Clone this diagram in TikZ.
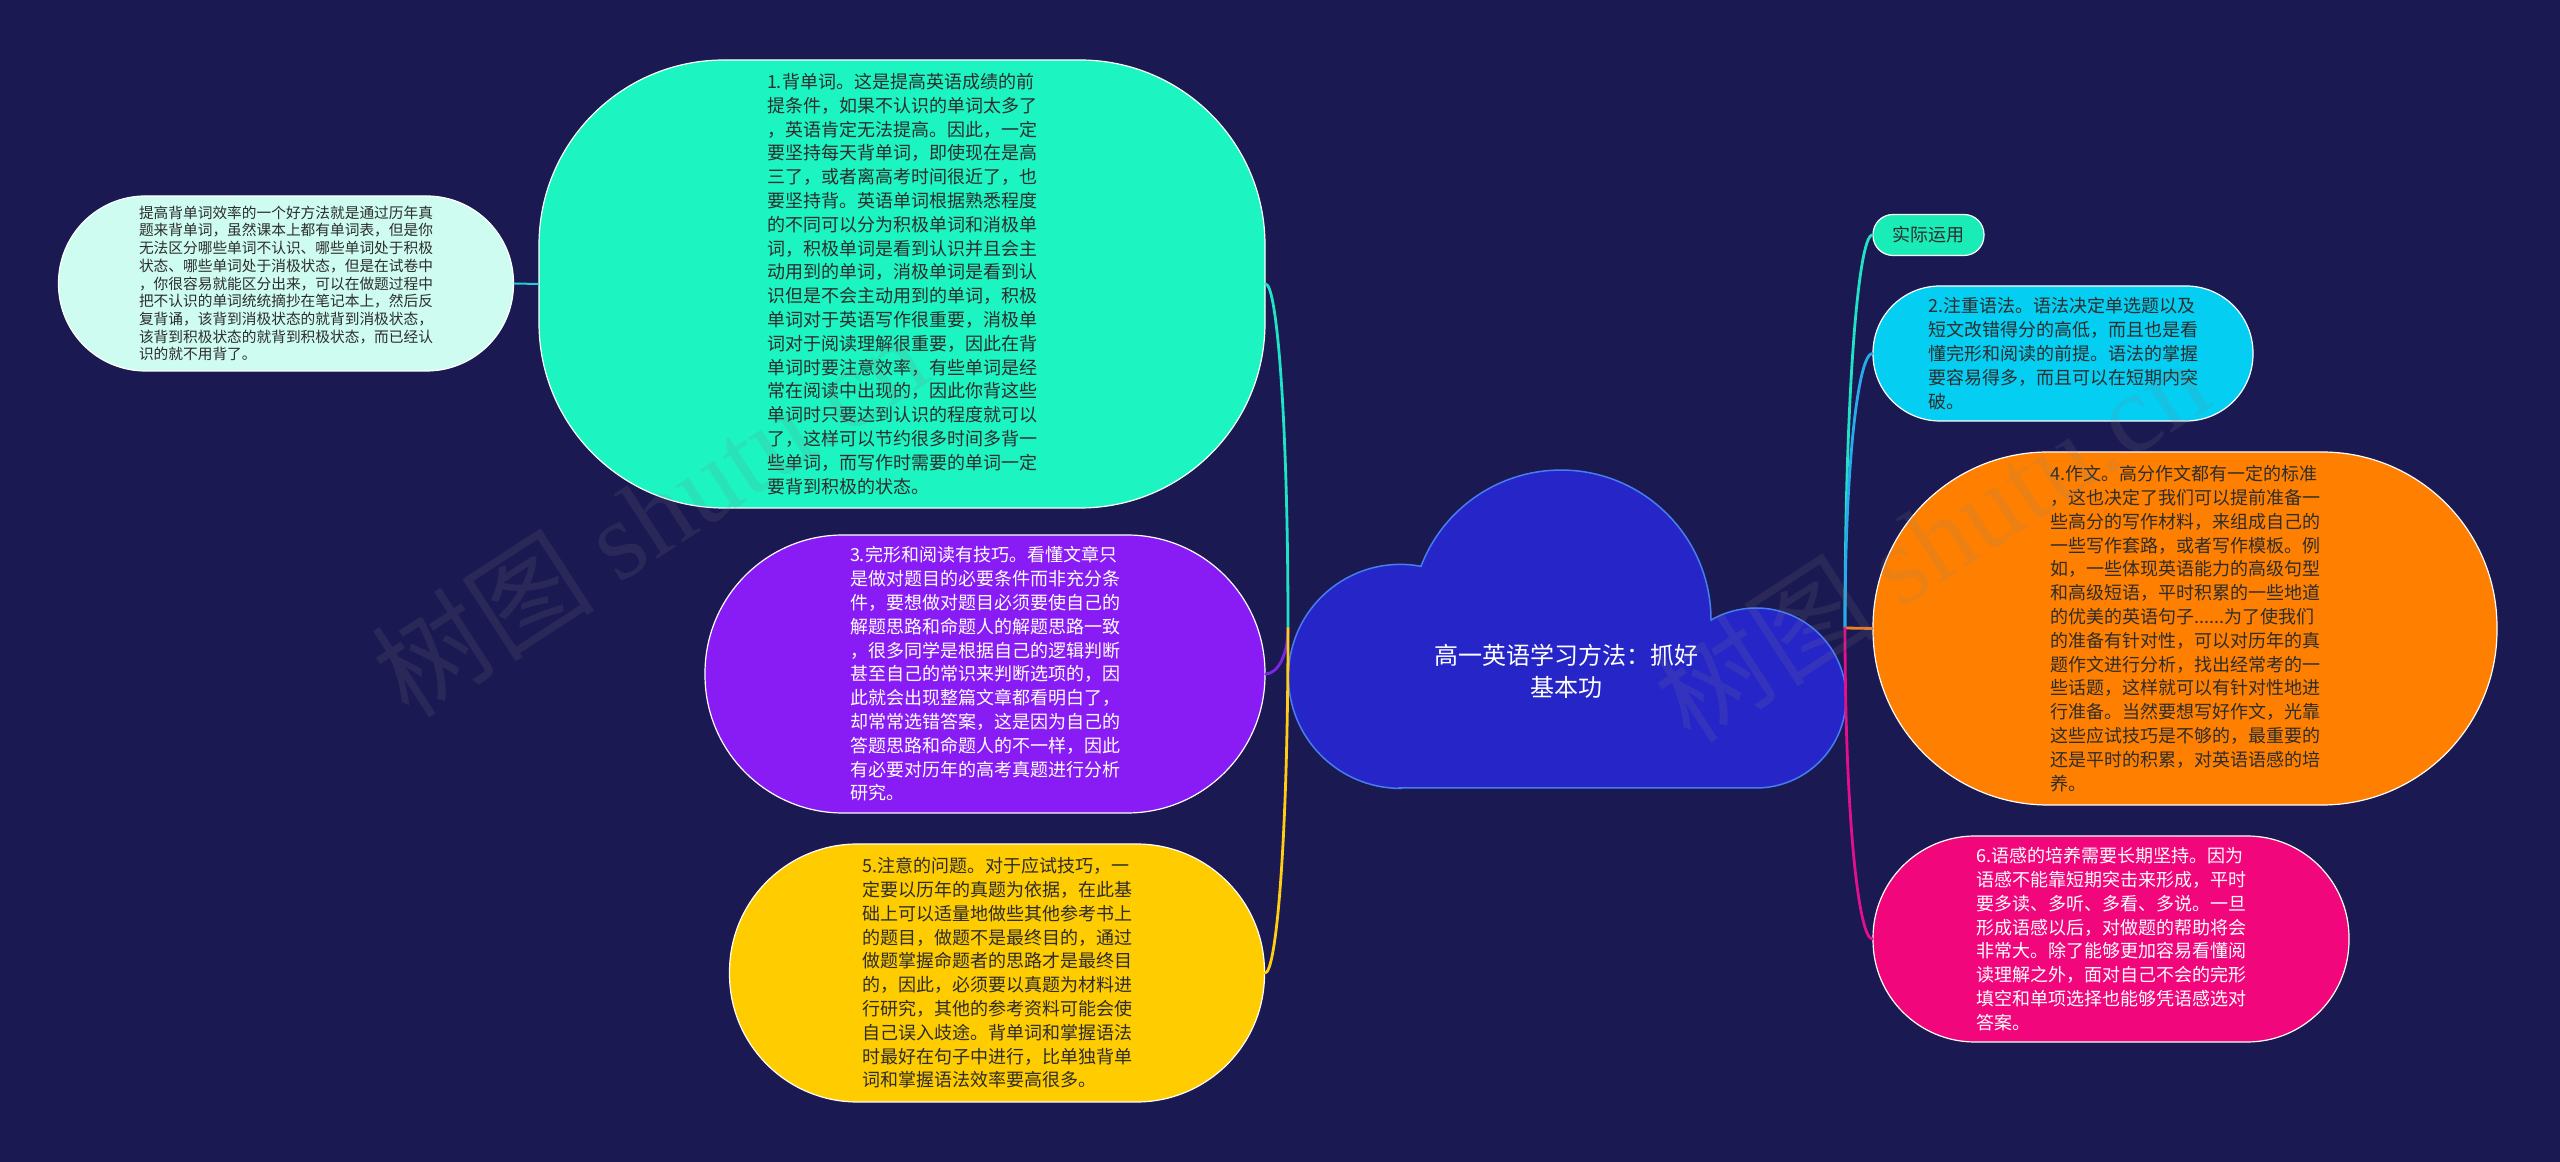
\documentclass[tikz,border=0pt]{standalone}
\usepackage{fontspec}
\setmainfont{Noto Sans CJK SC}
\newfontfamily\wmserif{Liberation Serif}
\definecolor{bg}{RGB}{27,25,82}
\definecolor{cgreen}{RGB}{28,244,194}
\definecolor{cmint}{RGB}{206,252,240}
\definecolor{cpurple}{RGB}{137,28,244}
\definecolor{cyellow}{RGB}{255,204,0}
\definecolor{cagreen}{RGB}{26,236,184}
\definecolor{ccyan}{RGB}{4,206,242}
\definecolor{corange}{RGB}{255,128,0}
\definecolor{cpink}{RGB}{242,6,123}
\definecolor{ccloud}{RGB}{38,38,200}
\definecolor{ccloudline}{RGB}{70,125,240}
\definecolor{txtdark}{RGB}{45,45,45}
\definecolor{lgreen}{RGB}{32,226,196}
\definecolor{lpurple}{RGB}{122,40,226}
\definecolor{lyellow}{RGB}{255,206,20}
\definecolor{lcyan}{RGB}{40,170,236}
\definecolor{lorange}{RGB}{238,128,40}
\definecolor{lpink}{RGB}{226,16,138}
\definecolor{lmint}{RGB}{34,204,216}
\begin{document}
\begin{tikzpicture}[x=1pt,y=1pt,
  box/.style={draw=white, line width=1.2pt, inner sep=0pt, align=left,
    font=\fontsize{18pt}{23.8pt}\selectfont, text=txtdark},
  conn/.style={line width=2.8pt, line cap=round},
  wm/.style={text=gray, opacity=0.15, font=\fontsize{112pt}{112pt}\selectfont}]
\useasboundingbox[fill=bg] (0,0) rectangle (2560,1162);

% cloud
\draw[fill=ccloud, draw=ccloudline, line width=1.5pt]
  (1400,374) -- (1756,374)
  arc[start angle=-90, end angle=120, radius=90]
  arc[start angle=0, end angle=159, radius=150]
  arc[start angle=79.4, end angle=270, radius=112] -- cycle;
\node[text=white, align=center, inner sep=0pt, font=\fontsize{24pt}{32pt}\selectfont] (root) at (1566,491) {高一英语学习方法：抓好\\基本功};
\coordinate (rootL) at (1288,534);
\coordinate (rootR) at (1845,534);

% left nodes
\node[box, fill=cgreen, minimum width=726pt, minimum height=448pt, rounded corners=185pt] (n1) at (902,878) {1.背单词。这是提高英语成绩的前\\提条件，如果不认识的单词太多了\\，英语肯定无法提高。因此，一定\\要坚持每天背单词，即使现在是高\\三了，或者离高考时间很近了，也\\要坚持背。英语单词根据熟悉程度\\的不同可以分为积极单词和消极单\\词，积极单词是看到认识并且会主\\动用到的单词，消极单词是看到认\\识但是不会主动用到的单词，积极\\单词对于英语写作很重要，消极单\\词对于阅读理解很重要，因此在背\\单词时要注意效率，有些单词是经\\常在阅读中出现的，因此你背这些\\单词时只要达到认识的程度就可以\\了，这样可以节约很多时间多背一\\些单词，而写作时需要的单词一定\\要背到积极的状态。};

\node[box, fill=cmint, minimum width=455pt, minimum height=175pt, rounded corners=87pt, font=\fontsize{14.7pt}{17.7pt}\selectfont] (nL) at (286,878.5) {提高背单词效率的一个好方法就是通过历年真\\题来背单词，虽然课本上都有单词表，但是你\\无法区分哪些单词不认识、哪些单词处于积极\\状态、哪些单词处于消极状态，但是在试卷中\\，你很容易就能区分出来，可以在做题过程中\\把不认识的单词统统摘抄在笔记本上，然后反\\复背诵，该背到消极状态的就背到消极状态，\\该背到积极状态的就背到积极状态，而已经认\\识的就不用背了。};

\node[box, fill=cpurple, text=white, minimum width=560pt, minimum height=278pt, rounded corners=138pt] (n3) at (985,488) {3.完形和阅读有技巧。看懂文章只\\是做对题目的必要条件而非充分条\\件，要想做对题目必须要使自己的\\解题思路和命题人的解题思路一致\\，很多同学是根据自己的逻辑判断\\甚至自己的常识来判断选项的，因\\此就会出现整篇文章都看明白了，\\却常常选错答案，这是因为自己的\\答题思路和命题人的不一样，因此\\有必要对历年的高考真题进行分析\\研究。};

\node[box, fill=cyellow, minimum width=535pt, minimum height=258pt, rounded corners=128pt] (n5) at (997,189) {5.注意的问题。对于应试技巧，一\\定要以历年的真题为依据，在此基\\础上可以适量地做些其他参考书上\\的题目，做题不是最终目的，通过\\做题掌握命题者的思路才是最终目\\的，因此，必须要以真题为材料进\\行研究，其他的参考资料可能会使\\自己误入歧途。背单词和掌握语法\\时最好在句子中进行，比单独背单\\词和掌握语法效率要高很多。};

% right nodes
\node[box, fill=cagreen, minimum width=111pt, minimum height=41pt, rounded corners=20pt, align=center] (nA) at (1928.5,927) {实际运用};

\node[box, fill=ccyan, minimum width=380pt, minimum height=135pt, rounded corners=67pt] (n2) at (2063,808.5) {2.注重语法。语法决定单选题以及\\短文改错得分的高低，而且也是看\\懂完形和阅读的前提。语法的掌握\\要容易得多，而且可以在短期内突\\破。};

\node[box, fill=corange, minimum width=624pt, minimum height=353pt, rounded corners=175pt] (n4) at (2185,533.5) {4.作文。高分作文都有一定的标准\\，这也决定了我们可以提前准备一\\些高分的写作材料，来组成自己的\\一些写作套路，或者写作模板。例\\如，一些体现英语能力的高级句型\\和高级短语，平时积累的一些地道\\的优美的英语句子......为了使我们\\的准备有针对性，可以对历年的真\\题作文进行分析，找出经常考的一\\些话题，这样就可以有针对性地进\\行准备。当然要想写好作文，光靠\\这些应试技巧是不够的，最重要的\\还是平时的积累，对英语语感的培\\养。};

\node[box, fill=cpink, text=white, minimum width=476pt, minimum height=206pt, rounded corners=102pt] (n6) at (2111,223) {6.语感的培养需要长期坚持。因为\\语感不能靠短期突击来形成，平时\\要多读、多听、多看、多说。一旦\\形成语感以后，对做题的帮助将会\\非常大。除了能够更加容易看懂阅\\读理解之外，面对自己不会的完形\\填空和单项选择也能够凭语感选对\\答案。};

% connectors
\draw[conn, lgreen] (rootL) .. controls +(0,206) and +(11.5,0) .. (n1.east);
\draw[conn, lpurple] (rootL) .. controls +(0,-28) and +(11.5,0) .. (n3.east);
\draw[conn, lyellow] (rootL) .. controls +(0,-207) and +(11.5,0) .. (n5.east);
\draw[line width=2pt, lmint] (nL.east) -- (n1.west);
\draw[conn, lgreen] (rootR) .. controls +(0,236) and +(-14,0) .. (nA.west);
\draw[conn, lcyan] (rootR) .. controls +(0,165) and +(-14,0) .. (n2.west);
\draw[conn, lorange] (rootR) -- (n4.west);
\draw[conn, lpink] (rootR) .. controls +(0,-187) and +(-14,0) .. (n6.west);

% watermarks
\node[wm, rotate=33] (wm1) at (649,648) {树图 {\wmserif shutu.cn}};
\node[wm, rotate=33] (wm2) at (1931,623) {树图 {\wmserif shutu.cn}};
\end{tikzpicture}
\end{document}
